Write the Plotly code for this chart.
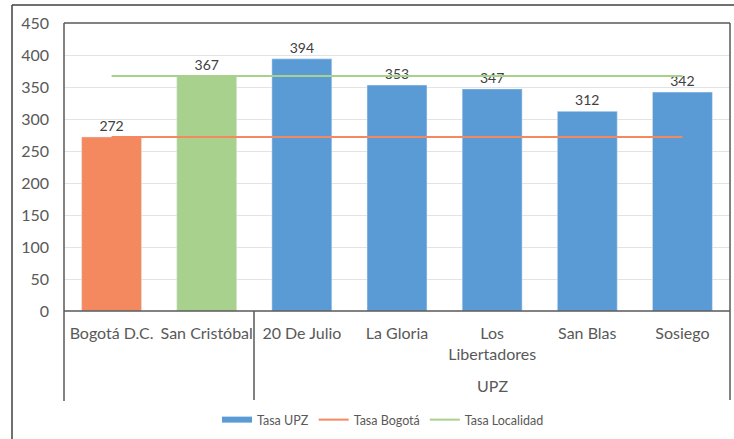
import plotly.graph_objects as go

categories = ["Bogotá D.C.", "San Cristóbal", "20 De Julio", "La Gloria", "Los<br>Libertadores", "San Blas", "Sosiego"]
values = [272, 367, 394, 353, 347, 312, 342]
tasa_bogota = 272
tasa_localidad = 367
group_label = "UPZ"
y_ticks = [0, 50, 100, 150, 200, 250, 300, 350, 400, 450]

# plot-area pixel geometry helpers (styling only)
L, R, T, B = 64, 730, 23, 311
W, H = 734, 439
def px(x):
    return (x - L) / (R - L)
def py(y):
    return (B - y) / (B - T)

xs = list(range(len(categories)))
FONT = "Lato, 'Open Sans', sans-serif"
GREY = "#595959"
LINE = "#595959"
BLUE = "#5B9BD5"
ORANGE = "#F4895F"
GREEN = "#A9D18E"
LBL = dict(size=14, color="#404040")

fig = go.Figure()
fig.add_trace(go.Bar(x=[xs[0]], y=[values[0]], marker_color=ORANGE, width=0.63,
                     text=[values[0]], textposition="outside", showlegend=False,
                     textfont=LBL, cliponaxis=False))
fig.add_trace(go.Bar(x=[xs[1]], y=[values[1]], marker_color=GREEN, width=0.63,
                     text=[values[1]], textposition="outside", showlegend=False,
                     textfont=LBL, cliponaxis=False))
fig.add_trace(go.Bar(x=xs[2:], y=values[2:], marker_color=BLUE, width=0.63,
                     text=values[2:], textposition="outside", showlegend=False,
                     textfont=LBL, cliponaxis=False))
# legend-only marker for the UPZ bars (wide bar swatch)
fig.add_trace(go.Scatter(x=[None], y=[None], mode="lines", line=dict(color=BLUE, width=6),
                         name="Tasa UPZ"))
fig.add_trace(go.Scatter(x=[xs[0], xs[-1]], y=[tasa_bogota] * 2, mode="lines",
                         line=dict(color=ORANGE, width=2), name="Tasa Bogotá"))
fig.add_trace(go.Scatter(x=[xs[0], xs[-1]], y=[tasa_localidad] * 2, mode="lines",
                         line=dict(color=GREEN, width=2), name="Tasa Localidad"))

shapes = []
# plot-area frame
shapes.append(dict(type="line", xref="paper", yref="paper", x0=0, x1=1, y0=1, y1=1, line=dict(color=LINE, width=1.5)))
shapes.append(dict(type="line", xref="paper", yref="paper", x0=0, x1=0, y0=1, y1=py(401), line=dict(color=LINE, width=1.5)))
shapes.append(dict(type="line", xref="paper", yref="paper", x0=1, x1=1, y0=1, y1=py(400), line=dict(color=LINE, width=1.5)))
shapes.append(dict(type="line", xref="paper", yref="paper", x0=px(254), x1=px(254), y0=0, y1=py(400), line=dict(color=LINE, width=1.5)))
shapes.append(dict(type="line", xref="paper", yref="paper", x0=0, x1=1, y0=0, y1=0, line=dict(color=LINE, width=1.5)))
# outer chart frame
shapes.append(dict(type="line", xref="paper", yref="paper", x0=px(12), x1=px(736), y0=py(5), y1=py(5), line=dict(color="#404040", width=1.5)))
shapes.append(dict(type="line", xref="paper", yref="paper", x0=px(12), x1=px(12), y0=py(5), y1=py(442), line=dict(color="#404040", width=1.5)))

fig.update_layout(
    width=W, height=H,
    margin=dict(l=L, r=W - R, t=T, b=H - B, autoexpand=False),
    paper_bgcolor="white", plot_bgcolor="white",
    barmode="overlay",
    font=dict(family=FONT, color=GREY),
    shapes=shapes,
    xaxis=dict(range=[-0.5, len(categories) - 0.5], tickmode="array", tickvals=xs,
               ticktext=categories, tickfont=dict(size=16, color=GREY),
               showgrid=False, zeroline=False, showline=False, ticks="",
               ticklabelstandoff=11),
    yaxis=dict(range=[0, 450], tickmode="array", tickvals=y_ticks,
               tickfont=dict(size=16, color=GREY), gridcolor="#E3E3E3",
               gridwidth=1, zeroline=False, showline=False, ticks="",
               ticklabelstandoff=14),
    legend=dict(orientation="h", x=px(383), xanchor="center", y=py(420), yanchor="middle",
                font=dict(size=12.5, color=GREY), traceorder="normal"),
    annotations=[dict(text=group_label, xref="x", yref="paper", x=4, y=py(385),
                      showarrow=False, font=dict(size=16, color=GREY), yanchor="middle")],
)

fig.write_html("out.html", config={"displayModeBar": False},
               post_script="document.body.style.margin='0';document.body.style.overflow='hidden';")
